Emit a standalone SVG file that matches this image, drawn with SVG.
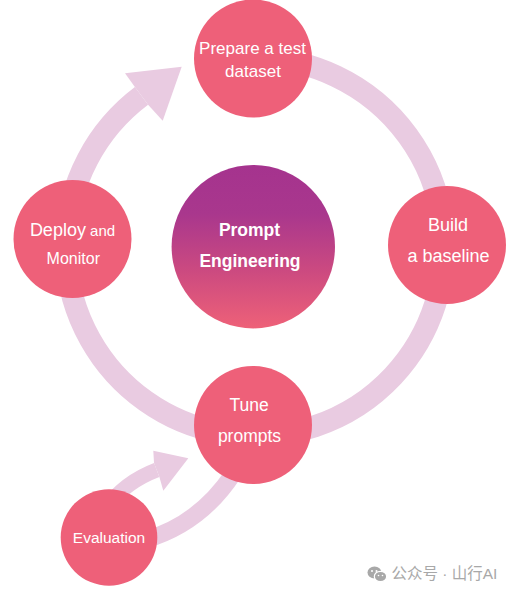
<svg xmlns="http://www.w3.org/2000/svg" width="516" height="599" viewBox="0 0 516 599">
<defs>
<linearGradient id="centerGrad" x1="0" y1="0" x2="0" y2="1">
<stop offset="0" stop-color="#A5338E"/>
<stop offset="0.3" stop-color="#A9378D"/>
<stop offset="0.65" stop-color="#CC4A80"/>
<stop offset="1" stop-color="#EE6178"/>
</linearGradient>
<style>
.band{fill:none;stroke:#E9CBE1;stroke-linecap:butt}
.head{fill:#E9CBE1}
.node{fill:#EE6079}
.lbl{font-family:"Liberation Sans",Arial,sans-serif;fill:#FFFFFF;text-anchor:middle}
.bold{font-weight:bold}
.wm{font-family:"Liberation Sans","Noto Sans CJK SC",sans-serif;fill:#A8A8A8;font-size:15.5px}
</style>
</defs>
<rect width="516" height="599" fill="#FFFFFF"/>
<g id="connectors">
<path class="band" stroke-width="22" d="M 255 58 A 189 189 0 1 1 141.5 95.9"/>
<polygon class="head" points="134.9,87.1 125,73.3 181.7,66.7 162.7,120.7 148.1,104.7"/>
<path class="band" stroke-width="17" d="M 145 540 Q 200 524 233 474"/>
<path class="band" stroke-width="15" d="M 106 508 Q 125 482 156.7 470"/>
<polygon class="head" points="154,463 153.3,450.7 188.3,458.3 163.3,490.7 159.4,477"/>
</g>
<g id="node-center">
<circle cx="253.3" cy="246.7" r="81.7" fill="url(#centerGrad)"/>
<text class="lbl bold" x="249.5" y="235.5" font-size="17.5">Prompt</text>
<text class="lbl bold" x="250" y="266.5" font-size="17.5">Engineering</text>
</g>
<g id="node-prepare">
<circle class="node" cx="253" cy="58.5" r="59"/>
<text class="lbl" x="252.5" y="54" font-size="17">Prepare a test</text>
<text class="lbl" x="253" y="76.7" font-size="17">dataset</text>
</g>
<g id="node-build">
<circle class="node" cx="447" cy="245" r="59"/>
<text class="lbl" x="448" y="231" font-size="18">Build</text>
<text class="lbl" x="448.5" y="261.5" font-size="18">a baseline</text>
</g>
<g id="node-deploy">
<circle class="node" cx="72.5" cy="239" r="59"/>
<text class="lbl" x="72.5" y="236" font-size="18">Deploy<tspan font-size="15"> and</tspan></text>
<text class="lbl" x="73.3" y="264.3" font-size="16">Monitor</text>
</g>
<g id="node-tune">
<circle class="node" cx="253" cy="425" r="59"/>
<text class="lbl" x="249" y="411" font-size="17.5">Tune</text>
<text class="lbl" x="249.5" y="441.7" font-size="17.5">prompts</text>
</g>
<g id="node-evaluation">
<circle class="node" cx="109" cy="537.5" r="48.3"/>
<text class="lbl" x="109" y="543.3" font-size="15.5">Evaluation</text>
</g>
<g id="watermark">
<ellipse cx="374.5" cy="572.5" rx="7" ry="6" fill="#A8A8A8"/>
<ellipse cx="380.5" cy="576.5" rx="6.2" ry="5.2" fill="#A8A8A8" stroke="#FFFFFF" stroke-width="1.2"/>
<circle cx="372" cy="571" r="1" fill="#FFFFFF"/>
<circle cx="376.5" cy="571" r="1" fill="#FFFFFF"/>
<circle cx="378.5" cy="575.5" r="0.8" fill="#FFFFFF"/>
<circle cx="382.5" cy="575.5" r="0.8" fill="#FFFFFF"/>
<text class="wm" x="391.5" y="579">公众号 · 山行AI</text>
</g>
</svg>
